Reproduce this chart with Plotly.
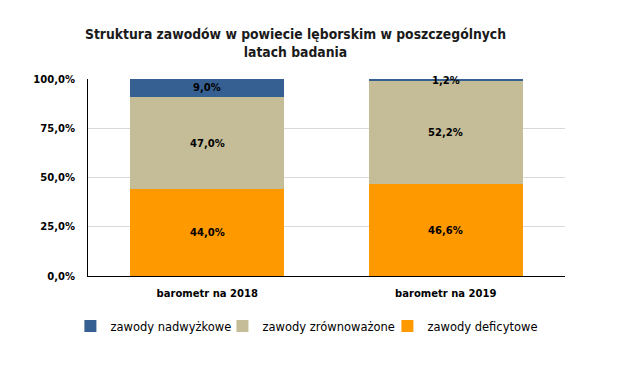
import plotly.graph_objects as go

categories = ["barometr na 2018", "barometr na 2019"]
deficytowe = [44.0, 46.6]
zrownowazone = [47.0, 52.2]
nadwyzkowe = [9.0, 1.2]
series_names = ["zawody deficytowe", "zawody zrównoważone", "zawody nadwyżkowe"]
colors = ["#FF9900", "#C4BD97", "#376092"]
tick_vals = [0, 25, 50, 75, 100]
tick_text = ["0,0%", "25,0%", "50,0%", "75,0%", "100,0%"]

def fmt(v):
    return f"{v:.1f}".replace(".", ",") + "%"

series = [deficytowe, zrownowazone, nadwyzkowe]
legend_ids = ["legend3", "legend2", "legend"]
legend_x = [0.6277, 0.2818, -0.0369]

fig = go.Figure()
for name, vals, col, lg in zip(series_names, series, colors, legend_ids):
    fig.add_trace(go.Bar(
        x=categories, y=vals, name=name, legend=lg,
        marker=dict(color=col, line=dict(width=0)),
    ))

annotations = []
for i, cat in enumerate(categories):
    base = 0
    for vals in series:
        v = vals[i]
        annotations.append(dict(x=cat, y=base + v / 2, xref="x", yref="y", text=f"<b>{fmt(v)}</b>",
                                showarrow=False, font=dict(family="DejaVu Sans", size=10, color="black")))
        base += v

legend_style = dict(orientation="h", xanchor="left", y=-0.254, yanchor="middle",
                    font=dict(family="DejaVu Sans", size=11.5, color="black"), itemwidth=30,
                    bgcolor="rgba(0,0,0,0)")

fig.update_layout(
    barmode="stack", bargap=0.354,
    width=620, height=377,
    paper_bgcolor="white", plot_bgcolor="white",
    margin=dict(l=80, r=63, t=71, b=109, autoexpand=False),
    title=dict(text="<b>Struktura zawodów w powiecie lęborskim w poszczególnych<br>latach badania</b>",
               x=0.4637, xanchor="center", y=0.918, yanchor="top",
               font=dict(family="DejaVu Sans Condensed, Liberation Sans Narrow", size=13.8, color="#1a1a1a")),
    annotations=annotations,
    legend=dict(x=legend_x[2], **legend_style),
    legend2=dict(x=legend_x[1], **legend_style),
    legend3=dict(x=legend_x[0], **legend_style),
    showlegend=True,
)
fig.update_yaxes(range=[0, 100], tickvals=tick_vals, ticktext=[f"<b>{t}</b>" for t in tick_text],
                 showgrid=True, gridcolor="#D9D9D9", gridwidth=1,
                 showline=True, linecolor="black", linewidth=1, ticks="", ticklabelstandoff=10,
                 tickfont=dict(family="DejaVu Sans", size=10, color="black"), zeroline=False,
                 automargin=False)
fig.update_xaxes(showline=True, linecolor="black", linewidth=1, ticks="", ticklabelstandoff=8,
                 tickvals=categories, ticktext=[f"<b>{c}</b>" for c in categories],
                 tickfont=dict(family="DejaVu Sans", size=10, color="black"), automargin=False)

fig.write_html("out.html")
